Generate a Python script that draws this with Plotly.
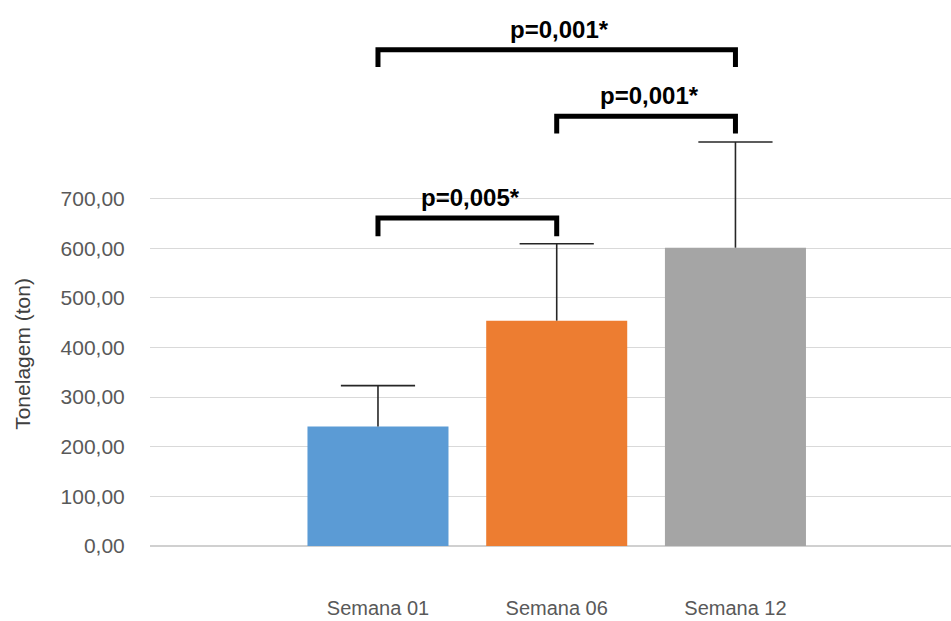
import plotly.graph_objects as go

categories = ["Semana 01", "Semana 06", "Semana 12"]
means = [241, 454, 601]
errors = [82, 155, 213]
colors = ["#5B9BD5", "#ED7D31", "#A5A5A5"]
y_ticks = [0, 100, 200, 300, 400, 500, 600, 700]
y_tick_labels = ["0,00", "100,00", "200,00", "300,00", "400,00", "500,00", "600,00", "700,00"]

# comparisons: (index a, index b, bracket height, leg bottom, label)
comp_a = [0, 1, 0]
comp_b = [1, 2, 2]
comp_top = [661, 866, 1000]
comp_leg = [624, 831, 965]
comp_label = ["p=0,005*", "p=0,001*", "p=0,001*"]

FONT = "Liberation Sans, Arial, sans-serif"

fig = go.Figure()
fig.add_trace(go.Bar(
    x=categories, y=means,
    marker=dict(color=colors, line=dict(width=0)),
    showlegend=False, hoverinfo="x+y",
))

# error bars: vertical stems from bar top to mean+error, with a cap on top only
stem_x, stem_y = [], []
for c, m, e in zip(categories, means, errors):
    stem_x += [c, c, None]
    stem_y += [m, m + e, None]
fig.add_trace(go.Scatter(
    x=stem_x, y=stem_y, mode="lines",
    line=dict(color="#262626", width=1.6), showlegend=False, hoverinfo="skip",
))
fig.add_trace(go.Scatter(
    x=categories, y=[m + e for m, e in zip(means, errors)], mode="markers",
    marker=dict(symbol="line-ew", size=53, line=dict(color="#262626", width=1.6)),
    showlegend=False, hoverinfo="skip",
))

shapes = []
annotations = []
for a, b, top, leg, lab in zip(comp_a, comp_b, comp_top, comp_leg, comp_label):
    shapes.append(dict(
        type="path", xref="x", yref="y",
        path=f"M {a},{leg} L {a},{top} L {b},{top} L {b},{leg}",
        line=dict(color="black", width=5), layer="above",
    ))
    annotations.append(dict(
        x=(a + b) / 2, y=top, xref="x", yref="y", text=f"<b>{lab}</b>",
        showarrow=False, yanchor="bottom", yshift=5, xshift=3,
        font=dict(family=FONT, size=24, color="black"),
    ))

annotations.append(dict(
    x=0, y=0.352, xref="paper", yref="paper", xshift=-127,
    text="Tonelagem (ton)", textangle=-90, showarrow=False,
    xanchor="center", yanchor="middle",
    font=dict(family=FONT, size=21, color="#404040"),
))

fig.update_layout(
    width=951, height=621,
    margin=dict(l=150, r=0, t=0, b=75),
    paper_bgcolor="white", plot_bgcolor="white",
    bargap=0.211,
    shapes=shapes, annotations=annotations,
    font=dict(family=FONT),
    xaxis=dict(
        range=[-1.2755, 3.206], showgrid=False, zeroline=False, showline=False,
        ticks="outside", ticklen=0, ticklabelstandoff=44,
        tickfont=dict(family=FONT, size=20, color="#595959"),
    ),
    yaxis=dict(
        range=[0, 1100], tickvals=y_ticks, ticktext=y_tick_labels,
        showgrid=True, gridcolor="#D9D9D9", gridwidth=1,
        zeroline=True, zerolinecolor="#D0D0D0", zerolinewidth=2,
        showline=False, ticks="outside", ticklen=0, ticklabelstandoff=20,
        tickfont=dict(family=FONT, size=21, color="#595959"),
    ),
)

fig.write_html(
    "out.html",
    config={"displayModeBar": False},
    post_script="document.body.style.margin='0px';document.body.style.overflow='hidden';",
)
